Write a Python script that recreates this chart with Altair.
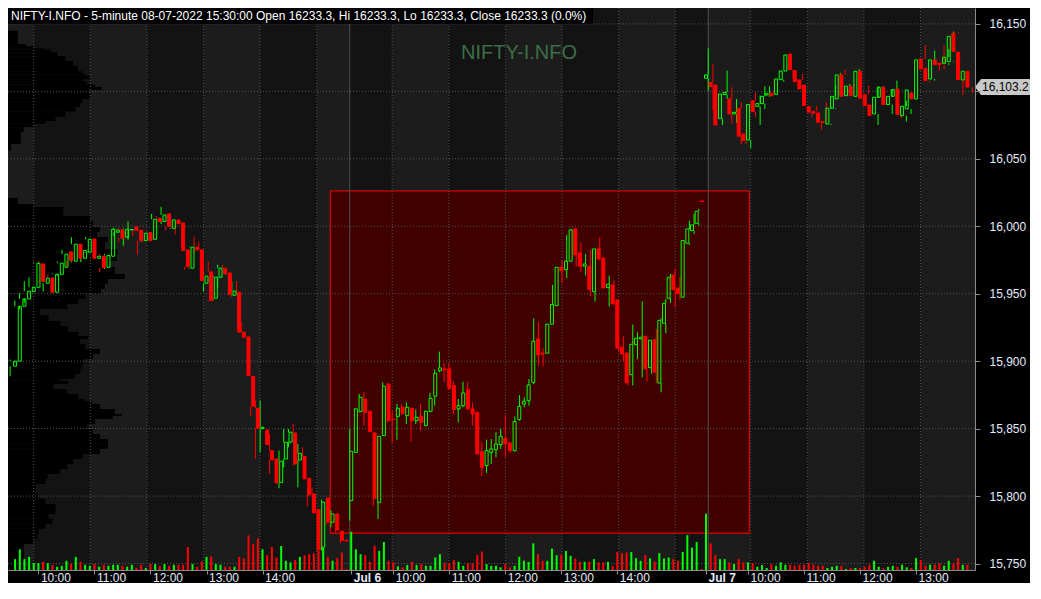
import altair as alt
import pandas as pd

# ---------------------------------------------------------------- data
HEADER = ("NIFTY-I.NFO - 5-minute 08-07-2022 15:30:00 Open 16233.3, Hi 16233.3, "
          "Lo 16233.3, Close 16233.3 (0.0%)")
WATERMARK = "NIFTY-I.NFO"

session_dates = ["Jul 5", "Jul 6", "Jul 7"]
session_first_bar = ["09:35", "09:15", "09:15"]
session_bar_count = [72, 76, 57]

bar_open = [
    15896.3, 15900.0, 15940.7, 15946.2, 15951.6, 15954.8, 15972.1, 15957.8, 15961.7, 15951.1,
    15964.4, 15969.6, 15981.0, 15974.1, 15986.7, 15976.3, 15980.8, 15990.6, 15976.3, 15977.8,
    15969.6, 15977.8, 15995.6, 15997.3, 15991.9, 15997.3, 15999.5, 15997.1, 15989.4, 15995.3,
    15990.4, 16005.7, 16003.5, 16009.2, 15998.5, 16004.7, 16002.5, 15982.5, 15968.9, 15984.5,
    15982.5, 15957.8, 15966.2, 15946.7, 15962.2, 15968.9, 15965.4, 15948.9, 15951.1, 15921.5,
    15918.0, 15888.8, 15865.1, 15850.0, 15849.0, 15833.7, 15827.5, 15810.2, 15827.5, 15839.9,
    15846.8, 15826.8, 15829.3, 15813.2, 15801.6, 15790.0, 15762.1, 15798.6, 15780.6, 15786.7,
    15773.9, 15767.2,
    15796.6, 15832.4, 15862.6, 15871.9, 15862.8, 15846.8, 15795.4, 15844.8, 15883.1, 15857.0,
    15859.1, 15865.8, 15859.6, 15865.1, 15855.9, 15859.1, 15852.2, 15862.8, 15874.0, 15893.0,
    15894.3, 15894.3, 15881.9, 15864.6, 15867.0, 15878.9, 15864.6, 15862.1, 15832.9, 15822.6,
    15832.4, 15834.4, 15838.1, 15842.8, 15839.4, 15833.7, 15856.7, 15868.3, 15870.7, 15884.3,
    15916.5, 15906.0, 15905.9, 15927.4, 15941.2, 15969.6, 15967.9, 15974.1, 15998.0, 15980.3,
    15970.4, 15970.4, 15951.6, 15983.2, 15976.5, 15954.5, 15956.5, 15945.4, 15910.3, 15906.1,
    15890.0, 15912.3, 15916.5, 15918.5, 15895.2, 15915.8, 15883.8, 15928.1, 15946.6, 15963.9,
    15954.1, 15947.4, 15987.4, 15996.8, 16002.2, 16018.6,
    16109.7, 16106.7, 16104.7, 16080.0, 16097.7, 16094.4, 16083.3, 16087.5, 16068.4, 16064.0,
    16093.1, 16088.9, 16090.9, 16097.3, 16098.6, 16097.8, 16108.7, 16115.1, 16127.7, 16115.4,
    16108.5, 16104.7, 16088.7, 16085.2, 16084.0, 16077.6, 16075.8, 16087.5, 16094.4, 16112.2,
    16096.8, 16103.8, 16096.3, 16114.9, 16097.6, 16089.9, 16083.3, 16095.6, 16103.0, 16090.2,
    16096.3, 16101.8, 16082.0, 16087.0, 16098.8, 16094.4, 16124.0, 16117.1, 16109.2, 16123.3,
    16121.0, 16120.8, 16122.0, 16143.0, 16129.0, 16108.5, 16114.9,
]
bar_high = [
    15901.2, 15944.9, 15950.4, 15959.3, 15962.2, 15973.3, 15974.3, 15964.4, 15964.0, 15965.0,
    15973.8, 15982.5, 15981.0, 15991.9, 15987.0, 15983.2, 15991.9, 15991.0, 15986.4, 15979.5,
    15979.5, 15998.0, 15998.5, 15998.5, 15998.5, 16003.7, 15999.5, 15997.1, 15996.1, 15996.3,
    16009.2, 16007.5, 16014.4, 16009.2, 16006.2, 16004.7, 16002.5, 15983.2, 15985.0, 15992.4,
    15988.7, 15966.4, 15973.8, 15963.5, 15971.4, 15971.4, 15965.4, 15959.3, 15959.3, 15928.9,
    15918.0, 15889.0, 15870.8, 15870.8, 15849.0, 15846.0, 15827.5, 15833.7, 15849.8, 15849.8,
    15853.5, 15838.6, 15836.2, 15813.2, 15806.5, 15790.0, 15797.4, 15798.6, 15789.7, 15786.7,
    15773.9, 15767.5,
    15849.7, 15865.0, 15875.7, 15877.4, 15862.8, 15846.8, 15844.3, 15884.3, 15883.8, 15863.3,
    15868.3, 15868.3, 15869.5, 15865.1, 15864.1, 15868.3, 15863.3, 15876.4, 15893.8, 15907.1,
    15898.5, 15898.4, 15885.0, 15871.9, 15884.8, 15884.8, 15869.5, 15862.1, 15839.8, 15841.8,
    15842.3, 15847.3, 15849.7, 15860.1, 15839.4, 15859.1, 15874.9, 15873.2, 15886.8, 15931.8,
    15928.9, 15909.6, 15927.4, 15956.5, 15969.6, 15974.6, 15993.6, 15998.0, 15998.5, 15988.1,
    15979.5, 15982.7, 15983.2, 15991.9, 15976.5, 15963.4, 15959.7, 15945.4, 15918.5, 15906.1,
    15927.1, 15921.4, 15944.4, 15918.5, 15915.5, 15923.9, 15931.8, 15946.1, 15964.7, 15968.4,
    15962.2, 15989.4, 16004.2, 16009.2, 16012.9, 16019.5,
    16131.9, 16120.3, 16104.7, 16098.0, 16115.4, 16103.0, 16094.4, 16091.9, 16070.9, 16090.2,
    16099.3, 16096.8, 16103.8, 16103.8, 16109.2, 16109.2, 16115.1, 16127.0, 16127.7, 16115.4,
    16112.9, 16104.7, 16088.7, 16089.4, 16084.0, 16091.9, 16089.0, 16104.7, 16113.7, 16116.1,
    16105.5, 16105.5, 16116.6, 16114.9, 16104.3, 16090.4, 16103.8, 16103.8, 16103.0, 16101.8,
    16108.0, 16101.8, 16093.1, 16101.0, 16098.8, 16123.3, 16134.4, 16117.1, 16130.2, 16123.3,
    16134.4, 16131.4, 16144.3, 16143.8, 16129.5, 16114.9, 16114.9,
]
bar_low = [
    15888.8, 15899.0, 15938.3, 15943.0, 15951.1, 15954.0, 15958.0, 15951.6, 15951.0, 15950.5,
    15963.0, 15969.6, 15970.1, 15973.3, 15976.0, 15973.3, 15980.3, 15975.8, 15976.0, 15966.0,
    15968.4, 15977.5, 15992.6, 15988.7, 15985.7, 15990.0, 15992.6, 15979.0, 15988.7, 15989.0,
    15990.0, 15998.5, 16001.7, 15996.8, 15998.0, 15993.9, 15982.0, 15967.9, 15968.4, 15980.8,
    15959.7, 15951.6, 15944.2, 15944.9, 15954.0, 15964.7, 15949.4, 15948.0, 15921.5, 15917.8,
    15888.8, 15859.2, 15827.5, 15832.5, 15838.2, 15816.4, 15809.7, 15805.8, 15821.3, 15836.2,
    15822.6, 15806.5, 15812.7, 15792.2, 15787.5, 15759.6, 15759.6, 15778.6, 15776.9, 15773.2,
    15765.0, 15766.5,
    15781.8, 15832.0, 15862.1, 15852.2, 15847.8, 15792.9, 15783.0, 15844.8, 15854.7, 15839.8,
    15841.8, 15860.0, 15853.4, 15840.3, 15853.4, 15848.5, 15852.2, 15862.1, 15867.1, 15891.8,
    15884.4, 15879.0, 15860.8, 15854.7, 15865.8, 15864.6, 15852.2, 15831.2, 15814.6, 15817.1,
    15823.8, 15828.7, 15834.9, 15828.7, 15832.0, 15833.0, 15855.9, 15865.8, 15867.0, 15883.0,
    15896.7, 15896.0, 15905.9, 15927.4, 15941.2, 15958.0, 15961.5, 15974.0, 15970.4, 15965.9,
    15963.4, 15948.1, 15944.2, 15974.6, 15954.3, 15940.5, 15942.4, 15907.1, 15900.4, 15882.0,
    15882.0, 15901.7, 15888.0, 15885.0, 15890.5, 15884.0, 15876.9, 15920.7, 15943.2, 15940.0,
    15945.7, 15947.4, 15986.2, 15994.3, 16000.5, 16018.0,
    16100.5, 16085.7, 16074.6, 16075.1, 16094.4, 16075.8, 16076.6, 16061.0, 16061.0, 16057.8,
    16080.8, 16075.1, 16087.0, 16096.0, 16096.8, 16097.8, 16107.2, 16115.1, 16109.7, 16107.2,
    16101.8, 16089.4, 16080.8, 16079.5, 16071.6, 16075.8, 16075.1, 16087.0, 16094.4, 16096.3,
    16096.8, 16096.3, 16096.3, 16094.9, 16089.4, 16082.0, 16075.1, 16095.6, 16090.2, 16083.3,
    16094.4, 16080.3, 16077.6, 16083.3, 16094.4, 16094.4, 16109.2, 16107.0, 16108.0, 16115.4,
    16116.1, 16119.6, 16121.6, 16127.7, 16097.3, 16104.7, 16098.8,
]
bar_close = [
    15900.0, 15940.7, 15946.2, 15951.9, 15954.8, 15972.6, 15959.0, 15961.5, 15951.1, 15964.4,
    15972.6, 15979.3, 15974.6, 15986.7, 15976.3, 15982.0, 15990.4, 15976.3, 15977.8, 15969.4,
    15978.3, 15997.8, 15997.1, 15991.1, 15997.8, 15997.6, 15996.8, 15989.2, 15994.8, 15989.4,
    16005.2, 16003.5, 16008.4, 15999.8, 16004.7, 16001.8, 15982.0, 15970.1, 15984.5, 15982.5,
    15959.7, 15963.0, 15944.9, 15962.2, 15968.9, 15964.7, 15949.4, 15951.9, 15921.5, 15917.8,
    15889.3, 15866.6, 15850.3, 15851.0, 15838.2, 15826.8, 15809.7, 15825.8, 15839.9, 15847.3,
    15823.8, 15831.7, 15812.7, 15800.8, 15787.5, 15760.1, 15795.4, 15780.6, 15786.7, 15774.9,
    15767.0, 15766.8,
    15833.2, 15864.6, 15873.2, 15862.1, 15847.8, 15798.3, 15844.3, 15881.4, 15855.9, 15856.6,
    15865.1, 15861.3, 15865.8, 15855.9, 15858.4, 15854.7, 15862.8, 15872.5, 15891.0, 15895.0,
    15893.5, 15879.9, 15864.1, 15867.0, 15876.4, 15864.6, 15860.9, 15831.2, 15821.3, 15833.7,
    15834.9, 15838.6, 15844.3, 15838.6, 15833.7, 15855.2, 15866.5, 15870.3, 15882.4, 15914.8,
    15904.6, 15905.3, 15927.4, 15942.0, 15969.6, 15967.1, 15974.1, 15997.3, 15978.8, 15970.4,
    15972.1, 15953.1, 15983.2, 15975.8, 15954.3, 15957.0, 15942.4, 15909.6, 15905.4, 15884.0,
    15912.5, 15917.0, 15917.7, 15894.3, 15915.5, 15891.8, 15930.3, 15942.9, 15962.2, 15953.1,
    15950.1, 15989.4, 15998.0, 16001.0, 16011.1, 16018.3,
    16112.2, 16103.5, 16075.1, 16098.0, 16099.3, 16083.3, 16084.5, 16066.7, 16063.5, 16090.2,
    16085.0, 16090.9, 16096.3, 16098.3, 16096.8, 16109.2, 16115.1, 16127.0, 16116.1, 16107.2,
    16101.8, 16089.4, 16084.5, 16083.8, 16077.1, 16077.1, 16087.5, 16096.3, 16112.2, 16096.3,
    16103.8, 16096.8, 16114.9, 16094.9, 16089.4, 16082.0, 16095.6, 16103.0, 16090.2, 16096.3,
    16101.3, 16082.8, 16088.9, 16101.0, 16094.4, 16123.3, 16116.6, 16108.0, 16123.3, 16119.8,
    16119.8, 16125.3, 16140.8, 16129.5, 16108.7, 16114.9, 16103.2,
]
# traded volume per bar (thousands)
bar_volume = [
    11, 21, 11, 13.3, 7, 7, 8.3, 7, 5, 3.3, 4.3, 9.3, 6, 13.3, 8.3, 5.3, 4.3, 6, 3.3, 5.3,
    4.3, 5.3, 5.3, 4.3, 3.3, 5.3, 2, 5.3, 2, 6, 6, 4.3, 6, 4.3, 5.3, 5.3, 5.3, 23.3, 6, 3.3,
    8.7, 13.3, 13.7, 6, 5.3, 3.3, 3.3, 3.3, 13.3, 11.7, 35, 26, 32, 21, 15, 23.3, 12.7, 24.3,
    9.3, 7.7, 10.3, 13.3, 15, 16, 16.7, 19.3, 22.7, 13.3, 9.3, 12, 17.7, 1,
    38.7, 21, 16, 15, 8.3, 24.3, 19.3, 28.3, 9.3, 7.7, 3.7, 2.7, 5, 8.3, 5, 6, 4.3, 4.3, 12.7, 16,
    7, 7, 10, 8.3, 4.3, 7, 6.7, 15.3, 18.7, 6, 4.3, 4.3, 2.7, 6, 2.7, 4.3, 13.3, 9.3, 8.3, 27,
    16, 9.3, 9.3, 21.7, 15, 15.3, 19.3, 14.3, 11.7, 8.3, 8.3, 8.3, 11, 7.7, 7.7, 8.3, 4.3, 18.3,
    17, 17.7, 18.3, 12, 9.3, 15, 11.7, 8.3, 17, 11.7, 12.7, 11, 9.3, 18.3, 35.3, 22.7, 28.3, 1,
    57, 27, 15, 11, 11, 7.7, 6, 11, 7.7, 7.7, 7, 3.3, 5, 2, 6, 4.3, 7.7, 5.3, 5.3, 4.3,
    5.3, 5.3, 7, 5.3, 4.3, 4.3, 2, 3.3, 4.3, 4.3, 1, 2, 2, 2, 3.3, 5.3, 9.3, 3.3, 1.7, 3.3,
    4.3, 3.3, 5.3, 2.7, 2, 12, 10, 4.3, 5.3, 5.3, 7, 4.3, 9.3, 6.7, 12, 5.3, 5.3,
]

price_ticks = [15750, 15800, 15850, 15900, 15950, 16000, 16050, 16100, 16150]

# highlighted zone (bar index range, price range)
zone_bars = [67.85, 156.7]
zone_prices = [15772.5, 16026.2]

# volume-at-price profile: price band edges (high to low) and volume per band
profile_upper_edges = [16145, 16135, 16133.5, 16132, 16131, 16129, 16126, 16122.5, 16119, 16115,
                       16113, 16111.5, 16109, 16107.5, 16105, 16103.3, 16101, 16099, 16096.5,
                       16094.5, 16091.5, 16088.5, 16085, 16081, 16078, 16076, 16073.5, 16070,
                       16061, 16056]
profile_upper_volume = [10, 18, 26, 38, 43, 50, 58, 66, 71, 75, 78, 83, 76, 80, 88, 95, 83, 84,
                        83, 75, 73, 68, 58, 48, 38, 26, 16, 13, 3]
profile_lower_edges = [16021, 16016.5, 16014.3, 16007.7, 16004.0, 15999.5, 15995.8, 15992.1,
                       15988.4, 15983.2, 15979.5, 15974.3, 15969.9, 15964.7, 15961.0, 15957.3,
                       15953.6, 15949.9, 15946.1, 15942.4, 15938.7, 15934.3, 15929.8, 15926.1,
                       15921.7, 15918.7, 15916.5, 15912.8, 15909.1, 15905.4, 15901.7, 15898.0,
                       15894.3, 15890.5, 15886.8, 15885.4, 15883.1, 15879.4, 15875.7, 15872.0,
                       15870.5, 15868.3, 15864.6, 15860.9, 15859.4, 15857.2, 15853.5, 15849.8,
                       15846.1, 15842.4, 15838.7, 15835.0, 15831.2, 15827.5, 15823.8, 15820.1,
                       15816.4, 15812.7, 15809.0, 15805.3, 15801.6, 15797.9, 15794.2, 15790.5,
                       15786.8, 15783.1, 15779.4, 15775.7, 15772.0, 15768.2, 15764.5, 15745.3]
profile_lower_volume = [10, 26, 56, 83, 86, 93, 90, 101, 98, 111, 110, 103, 108, 118, 101, 98,
                        94, 78, 71, 60, 32, 41, 53, 61, 71, 81, 73, 78, 93, 86, 76, 75, 73, 68,
                        53, 61, 46, 60, 71, 78, 85, 93, 108, 115, 106, 88, 80, 86, 93, 101, 101,
                        93, 76, 66, 60, 53, 40, 38, 28, 28, 31, 38, 48, 48, 41, 45, 38, 31, 30,
                        26, 16]

# ---------------------------------------------------------------- tables
rows = []
bar = 0
day_start_bars = []
for d, (date, first, n) in enumerate(zip(session_dates, session_first_bar, session_bar_count)):
    hh, mm = map(int, first.split(":"))
    start = hh * 60 + mm
    day_start_bars.append(bar)
    for i in range(n):
        t = start + 5 * i
        rows.append({"bar": bar, "day": d, "hh": t // 60, "mm": t % 60})
        bar += 1

df = pd.DataFrame(rows)
df["open"] = bar_open
df["high"] = bar_high
df["low"] = bar_low
df["close"] = bar_close
df["volume"] = bar_volume
df["dir"] = ["up" if c >= o else "down" for o, c in zip(bar_open, bar_close)]
df["body_top"] = df[["open", "close"]].max(axis=1)
df["body_bot"] = df[["open", "close"]].min(axis=1)

hour_bars = df[(df.mm == 0) & (df.hh >= 10)]
hour_list = hour_bars["bar"].tolist()
hour_hours = hour_bars["hh"].tolist()
sep_list = day_start_bars[1:]

X_DOMAIN = [-0.45, 204.55]
Y_DOMAIN = [15745.2, 16161.8]
VOL_DOMAIN = [0, 569]
PROFILE_DOMAIN = [0, 978]

# alternating background bands: every hour line and every session start toggles the shade
bounds = sorted(set([X_DOMAIN[0]] + hour_list + sep_list + [X_DOMAIN[1]]))
bands_df = pd.DataFrame({
    "x0": bounds[:-1], "x1": bounds[1:],
    "shade": ["light" if k % 2 == 0 else "dark" for k in range(len(bounds) - 1)],
})

label_bars, label_text = [], []
for b, h in zip(hour_list, hour_hours):
    if 10 <= h <= 14:
        label_bars.append(b)
        label_text.append(f"{h}:00")
for b, dname in zip(sep_list, session_dates[1:]):
    label_bars.append(b)
    label_text.append(dname)

prof_rows = []
for edges, vols in ((profile_upper_edges, profile_upper_volume),
                    (profile_lower_edges, profile_lower_volume)):
    for k, v in enumerate(vols):
        prof_rows.append({"top": edges[k], "bot": edges[k + 1], "vol": v, "zero": 0})
prof_df = pd.DataFrame(prof_rows)

last_close = bar_close[-1]
tag_df = pd.DataFrame({"edge": [X_DOMAIN[1]], "close": [last_close],
                       "label": [f"{last_close:,.1f}"]})
hidden_tick = min(price_ticks, key=lambda p: abs(p - last_close))

zone_df = pd.DataFrame({"b0": [zone_bars[0]], "b1": [zone_bars[1]],
                        "p0": [zone_prices[0]], "p1": [zone_prices[1]]})
ticks_df = pd.DataFrame({"price": price_ticks})
hours_df = pd.DataFrame({"bar": hour_list})
seps_df = pd.DataFrame({"bar": sep_list})
text_df = pd.DataFrame({"hdr": [HEADER], "wm": [WATERMARK]})

# ---------------------------------------------------------------- styling
W, H = 967, 562
FONT = "Liberation Sans"
GREEN = "#00ff00"
RED = "#ff0000"
LABEL = "#e4ecfb"
AXISC = "#8c8c8c"


def xs():
    return alt.Scale(domain=X_DOMAIN, nice=False, zero=False)


def ys():
    return alt.Scale(domain=Y_DOMAIN, nice=False, zero=False)


dir_color = alt.Color("dir:N", scale=alt.Scale(domain=["up", "down"], range=[GREEN, RED]),
                      legend=None)

bands = alt.Chart(bands_df).mark_rect().encode(
    x=alt.X("x0:Q", scale=xs(), axis=None), x2="x1:Q",
    color=alt.Color("shade:N", scale=alt.Scale(domain=["light", "dark"],
                                               range=["#1c1c1c", "#131313"]), legend=None),
)

zone = alt.Chart(zone_df).mark_rect(fill="#400000", stroke=RED, strokeWidth=1).encode(
    x=alt.X("b0:Q", scale=xs(), axis=None), x2="b1:Q",
    y=alt.Y("p1:Q", scale=ys(), axis=None), y2="p0:Q",
)

watermark = alt.Chart(text_df).mark_text(
    align="center", baseline="middle", fontSize=20, font=FONT, color="#3c6e47"
).encode(x=alt.value(511), y=alt.value(45), text="wm:N")

profile = alt.Chart(prof_df).mark_rect(color="#000000").encode(
    x=alt.X("zero:Q", scale=alt.Scale(domain=PROFILE_DOMAIN, nice=False, zero=False), axis=None),
    x2="vol:Q",
    y=alt.Y("top:Q", scale=ys(), axis=None), y2="bot:Q",
)

hgrid = alt.Chart(ticks_df).mark_rule(color="#555555", strokeDash=[1, 2], strokeWidth=1).encode(
    y=alt.Y("price:Q", scale=ys(), axis=None))
vgrid = alt.Chart(hours_df).mark_rule(color="#555555", strokeDash=[1, 2], strokeWidth=1).encode(
    x=alt.X("bar:Q", scale=xs(), axis=None))
daysep = alt.Chart(seps_df).mark_rule(color="#505050", strokeWidth=1).encode(
    x=alt.X("bar:Q", scale=xs(), axis=None))

volume = alt.Chart(df).mark_bar(size=2).encode(
    x=alt.X("bar:Q", scale=xs(), axis=None),
    y=alt.Y("volume:Q", scale=alt.Scale(domain=VOL_DOMAIN, nice=False), axis=None),
    color=dir_color,
)

wick_hi = alt.Chart(df).mark_rule(strokeWidth=1).encode(
    x=alt.X("bar:Q", scale=xs(), axis=None),
    y=alt.Y("high:Q", scale=ys(), axis=None), y2="body_top:Q", color=dir_color)
wick_lo = alt.Chart(df).mark_rule(strokeWidth=1).encode(
    x=alt.X("bar:Q", scale=xs(), axis=None),
    y=alt.Y("body_bot:Q", scale=ys(), axis=None), y2="low:Q", color=dir_color)

body_up = alt.Chart(df).transform_filter("datum.dir == 'up'").mark_bar(
    size=3, color=GREEN, fillOpacity=0, stroke=GREEN, strokeWidth=1
).encode(
    x=alt.X("bar:Q", scale=xs(), axis=None),
    y=alt.Y("open:Q", scale=ys(), axis=None), y2="close:Q",
)

x_label_expr = (f"{label_text}[indexof({label_bars}, datum.value)]")
bold_test = " || ".join(f"datum.value == {b}" for b in sep_list)

body_dn = alt.Chart(df).transform_filter("datum.dir == 'down'").mark_bar(
    size=3, color=RED, stroke=RED, strokeWidth=1
).encode(
    x=alt.X("bar:Q", scale=xs(), axis=alt.Axis(
        values=sorted(label_bars), labelExpr=x_label_expr, orient="bottom", grid=False,
        labelAlign="left", labelBaseline="top", labelPadding=-2, labelOffset=2,
        labelFont=FONT, labelFontSize=12, labelColor=LABEL,
        labelFontWeight={"condition": {"test": bold_test, "value": "bold"}, "value": "normal"},
        labelFlush=False, labelOverlap=False, tickSize=4, tickColor=AXISC, domainColor=AXISC,
        title=None, zindex=1)),
    y=alt.Y("open:Q", scale=ys(), axis=alt.Axis(
        values=price_ticks, orient="right", grid=False,
        labelExpr=f"datum.value == {hidden_tick} ? '' : format(datum.value, ',')",
        labelFont=FONT, labelFontSize=12, labelColor=LABEL, labelPadding=9,
        labelFlush=False, labelOverlap=False, tickSize=5, tickColor=AXISC, domainColor=AXISC,
        title=None, zindex=1)),
    y2="close:Q",
)

TAG = "M-1,0L-0.78,-0.29L1,-0.29L1,0.29L-0.78,0.29Z"
tag = alt.Chart(tag_df).mark_point(
    shape=TAG, size=3025, filled=True, color="#c8c8c8", opacity=1, xOffset=27.5
).encode(x=alt.X("edge:Q", scale=xs(), axis=None), y=alt.Y("close:Q", scale=ys(), axis=None))
tag_text = alt.Chart(tag_df).mark_text(
    align="left", baseline="middle", dx=7, fontSize=12, font=FONT, color="#000000"
).encode(x=alt.X("edge:Q", scale=xs(), axis=None), y=alt.Y("close:Q", scale=ys(), axis=None),
         text="label:N")

title_box = alt.Chart(text_df).mark_rect(color="#000000").encode(
    x=alt.value(0), x2=alt.value(585), y=alt.value(0), y2=alt.value(16))
title_text = alt.Chart(text_df).mark_text(
    align="left", baseline="middle", fontSize=12, font=FONT, color="#ffffff"
).encode(x=alt.value(3), y=alt.value(8), text="hdr:N")

chart = alt.layer(
    bands, zone, watermark, profile, hgrid, vgrid, daysep, volume,
    wick_hi, wick_lo, body_up, body_dn, tag, tag_text, title_box, title_text,
).resolve_scale(
    x="independent", y="independent", color="independent"
).properties(
    width=W, height=H,
    padding={"left": 0, "top": 0, "right": 55, "bottom": 13},
    autosize=alt.AutoSizeParams(type="none"),
    background="#000000",
).configure_view(strokeWidth=0)

chart.save("out.html", embed_options={"renderer": "svg", "actions": False})
